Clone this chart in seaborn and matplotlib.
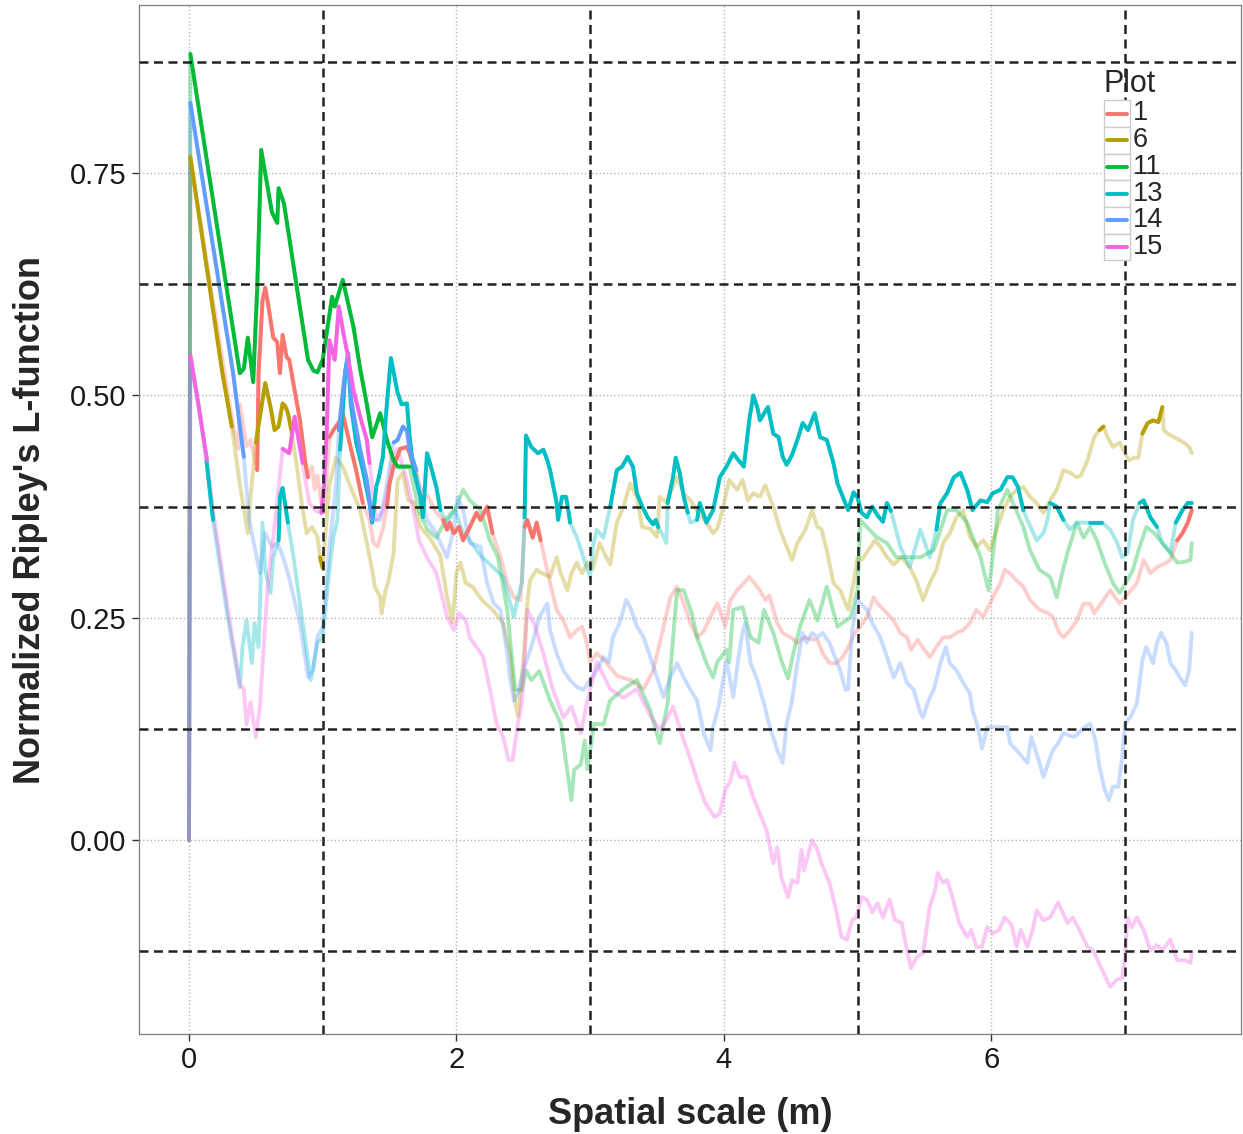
import pandas as pd
import seaborn as sns
import matplotlib.pyplot as plt
from matplotlib.lines import Line2D
from matplotlib.patches import Rectangle

# Plot ids and ggplot-style hue colours
plots = ['1', '6', '11', '13', '14', '15']
colors = ['#F8766D', '#B79F00', '#00BA38', '#00BFC4', '#619CFF', '#F564E3']

# (spatial scale, normalized L)
pts_1 = [(0, 0), (0.01, 0.765), (0.33, 0.465), (0.37, 0.44), (0.38, 0.49), (0.43, 0.443), (0.46, 0.45),
         (0.51, 0.416), (0.52, 0.525), (0.55, 0.607), (0.57, 0.621), (0.59, 0.604), (0.63, 0.565),
         (0.66, 0.56), (0.68, 0.525), (0.70, 0.568), (0.73, 0.543), (0.75, 0.54), (0.78, 0.514),
         (0.83, 0.472), (0.87, 0.424), (0.89, 0.408), (0.92, 0.42), (0.94, 0.394), (0.96, 0.41),
         (0.99, 0.379), (1.01, 0.368), (1.05, 0.453), (1.08, 0.461), (1.13, 0.472), (1.15, 0.48),
         (1.20, 0.447), (1.25, 0.416), (1.30, 0.379), (1.35, 0.36), (1.38, 0.334), (1.41, 0.33),
         (1.45, 0.35), (1.48, 0.375), (1.50, 0.401), (1.53, 0.42), (1.58, 0.44), (1.63, 0.442),
         (1.65, 0.435), (1.70, 0.408), (1.75, 0.39), (1.79, 0.386), (1.84, 0.37), (1.90, 0.36),
         (1.93, 0.349), (1.95, 0.357), (1.98, 0.345), (2.02, 0.352), (2.05, 0.337), (2.10, 0.352),
         (2.15, 0.368), (2.18, 0.36), (2.23, 0.375), (2.27, 0.345), (2.33, 0.318), (2.38, 0.289),
         (2.43, 0.273), (2.48, 0.27), (2.51, 0.352), (2.53, 0.36), (2.57, 0.34), (2.60, 0.357),
         (2.63, 0.337), (2.67, 0.31), (2.70, 0.289), (2.75, 0.259), (2.80, 0.247), (2.85, 0.228),
         (2.90, 0.236), (2.94, 0.24), (2.97, 0.225), (3.00, 0.20), (3.05, 0.21), (3.12, 0.20),
         (3.20, 0.185), (3.30, 0.18), (3.40, 0.17), (3.47, 0.19), (3.55, 0.24), (3.60, 0.273),
         (3.65, 0.285), (3.70, 0.266), (3.75, 0.244), (3.80, 0.228), (3.85, 0.235), (3.90, 0.251),
         (3.95, 0.266), (3.97, 0.259), (4.01, 0.24), (4.05, 0.27), (4.10, 0.281), (4.15, 0.289),
         (4.19, 0.296), (4.27, 0.281), (4.31, 0.27), (4.34, 0.275), (4.40, 0.244), (4.44, 0.233),
         (4.50, 0.228), (4.55, 0.222), (4.60, 0.228), (4.65, 0.226), (4.70, 0.225), (4.74, 0.21),
         (4.79, 0.199), (4.84, 0.199), (4.89, 0.206), (4.93, 0.217), (4.98, 0.233), (5.02, 0.24),
         (5.07, 0.251), (5.12, 0.273), (5.15, 0.266), (5.19, 0.26), (5.27, 0.247), (5.32, 0.233),
         (5.37, 0.228), (5.40, 0.214), (5.45, 0.225), (5.50, 0.214), (5.54, 0.206), (5.59, 0.217),
         (5.64, 0.228), (5.69, 0.228), (5.74, 0.233), (5.79, 0.236), (5.84, 0.244), (5.89, 0.259),
         (5.94, 0.251), (5.99, 0.266), (6.04, 0.281), (6.07, 0.289), (6.10, 0.304), (6.14, 0.30),
         (6.19, 0.292), (6.24, 0.285), (6.29, 0.27), (6.36, 0.259), (6.43, 0.255), (6.46, 0.251),
         (6.51, 0.233), (6.54, 0.228), (6.59, 0.236), (6.64, 0.247), (6.69, 0.266), (6.74, 0.266),
         (6.77, 0.255), (6.84, 0.27), (6.89, 0.281), (6.96, 0.266), (7.04, 0.28), (7.09, 0.289),
         (7.14, 0.315), (7.19, 0.30), (7.24, 0.307), (7.31, 0.312), (7.34, 0.315), (7.39, 0.337),
         (7.43, 0.345), (7.47, 0.357), (7.50, 0.371)]
sig_1 = [(0.01, 0.30), (0.50, 0.90), (1.02, 1.34), (1.48, 1.74), (1.90, 2.28), (2.50, 2.64), (7.37, 7.5)]

pts_6 = [(0, 0), (0.01, 0.768), (0.25, 0.525), (0.32, 0.465), (0.38, 0.40), (0.44, 0.345), (0.46, 0.386),
         (0.50, 0.447), (0.57, 0.514), (0.61, 0.487), (0.64, 0.461), (0.67, 0.465), (0.70, 0.491),
         (0.72, 0.488), (0.74, 0.48), (0.77, 0.457), (0.81, 0.416), (0.85, 0.371), (0.88, 0.345),
         (0.92, 0.352), (0.96, 0.341), (0.98, 0.318), (1.00, 0.306), (1.03, 0.36), (1.05, 0.40),
         (1.10, 0.43), (1.15, 0.42), (1.20, 0.40), (1.28, 0.371), (1.33, 0.334), (1.37, 0.304),
         (1.39, 0.285), (1.43, 0.273), (1.44, 0.255), (1.47, 0.281), (1.49, 0.29), (1.53, 0.323),
         (1.56, 0.405), (1.60, 0.413), (1.64, 0.382), (1.68, 0.38), (1.73, 0.352), (1.80, 0.34),
         (1.88, 0.32), (1.93, 0.273), (1.97, 0.245), (2.00, 0.30), (2.03, 0.312), (2.07, 0.289),
         (2.12, 0.285), (2.19, 0.27), (2.27, 0.259), (2.35, 0.244), (2.40, 0.21), (2.44, 0.154),
         (2.46, 0.14), (2.50, 0.20), (2.53, 0.266), (2.55, 0.292), (2.60, 0.304), (2.64, 0.30),
         (2.70, 0.296), (2.75, 0.318), (2.78, 0.30), (2.83, 0.281), (2.86, 0.30), (2.90, 0.312),
         (2.94, 0.30), (2.98, 0.312), (3.02, 0.305), (3.07, 0.334), (3.13, 0.315), (3.15, 0.31),
         (3.20, 0.357), (3.25, 0.375), (3.30, 0.401), (3.35, 0.385), (3.39, 0.352), (3.45, 0.35),
         (3.50, 0.341), (3.52, 0.386), (3.57, 0.38), (3.65, 0.408), (3.70, 0.39), (3.75, 0.382),
         (3.80, 0.37), (3.87, 0.357), (3.92, 0.345), (3.95, 0.35), (3.99, 0.371), (4.04, 0.405),
         (4.10, 0.394), (4.14, 0.405), (4.18, 0.382), (4.22, 0.39), (4.27, 0.386), (4.31, 0.399),
         (4.37, 0.375), (4.42, 0.349), (4.47, 0.33), (4.51, 0.315), (4.55, 0.334), (4.61, 0.349),
         (4.66, 0.371), (4.70, 0.352), (4.73, 0.35), (4.77, 0.326), (4.82, 0.289), (4.87, 0.281),
         (4.93, 0.259), (4.97, 0.289), (5.00, 0.318), (5.03, 0.315), (5.08, 0.326), (5.13, 0.337),
         (5.17, 0.33), (5.22, 0.318), (5.27, 0.31), (5.33, 0.318), (5.39, 0.307), (5.44, 0.292),
         (5.49, 0.27), (5.54, 0.289), (5.59, 0.304), (5.64, 0.334), (5.69, 0.345), (5.74, 0.363),
         (5.79, 0.371), (5.84, 0.341), (5.89, 0.33), (5.94, 0.337), (5.99, 0.326), (6.04, 0.349),
         (6.09, 0.371), (6.14, 0.386), (6.19, 0.394), (6.24, 0.397), (6.29, 0.386), (6.34, 0.379),
         (6.39, 0.368), (6.44, 0.382), (6.49, 0.394), (6.54, 0.416), (6.59, 0.413), (6.64, 0.408),
         (6.67, 0.41), (6.72, 0.427), (6.77, 0.453), (6.81, 0.461), (6.84, 0.465), (6.87, 0.453),
         (6.91, 0.442), (6.96, 0.447), (7.00, 0.435), (7.03, 0.427), (7.07, 0.43), (7.10, 0.43),
         (7.13, 0.457), (7.17, 0.469), (7.21, 0.472), (7.25, 0.47), (7.28, 0.487), (7.29, 0.461),
         (7.32, 0.457), (7.37, 0.453), (7.43, 0.448), (7.48, 0.442), (7.50, 0.435)]
sig_6 = [(0.01, 0.33), (0.50, 0.77), (0.98, 1.01), (6.80, 6.85), (7.12, 7.28)]

pts_11 = [(0, 0), (0.01, 0.884), (0.38, 0.525), (0.41, 0.53), (0.44, 0.565), (0.48, 0.515), (0.51, 0.62),
          (0.54, 0.776), (0.62, 0.706), (0.66, 0.694), (0.67, 0.733), (0.71, 0.716), (0.89, 0.54),
          (0.93, 0.528), (0.96, 0.526), (1.00, 0.54), (1.03, 0.57), (1.07, 0.611), (1.09, 0.60),
          (1.15, 0.63), (1.23, 0.577), (1.28, 0.53), (1.33, 0.49), (1.37, 0.453), (1.43, 0.48),
          (1.48, 0.45), (1.53, 0.427), (1.56, 0.42), (1.65, 0.42), (1.72, 0.37), (1.78, 0.35),
          (1.85, 0.34), (1.92, 0.36), (2.00, 0.375), (2.05, 0.394), (2.10, 0.382), (2.18, 0.371),
          (2.25, 0.337), (2.31, 0.318), (2.35, 0.285), (2.38, 0.259), (2.40, 0.228), (2.44, 0.169),
          (2.49, 0.169), (2.52, 0.191), (2.56, 0.18), (2.62, 0.19), (2.70, 0.157), (2.78, 0.131),
          (2.86, 0.045), (2.88, 0.079), (2.93, 0.085), (2.96, 0.112), (2.98, 0.08), (3.03, 0.131),
          (3.10, 0.13), (3.15, 0.157), (3.25, 0.17), (3.35, 0.18), (3.45, 0.146), (3.52, 0.109),
          (3.58, 0.154), (3.65, 0.281), (3.70, 0.281), (3.76, 0.255), (3.80, 0.228), (3.87, 0.199),
          (3.92, 0.183), (3.95, 0.20), (4.02, 0.214), (4.04, 0.20), (4.07, 0.259), (4.14, 0.262),
          (4.20, 0.228), (4.26, 0.222), (4.30, 0.259), (4.37, 0.233), (4.43, 0.202), (4.48, 0.182),
          (4.52, 0.21), (4.57, 0.24), (4.64, 0.27), (4.70, 0.247), (4.77, 0.285), (4.85, 0.24),
          (4.95, 0.251), (5.00, 0.281), (5.02, 0.36), (5.07, 0.352), (5.14, 0.341), (5.22, 0.334),
          (5.29, 0.318), (5.47, 0.318), (5.57, 0.326), (5.67, 0.371), (5.74, 0.371), (5.82, 0.357),
          (5.92, 0.318), (5.98, 0.281), (6.00, 0.304), (6.05, 0.371), (6.12, 0.394), (6.24, 0.352),
          (6.29, 0.326), (6.36, 0.304), (6.44, 0.296), (6.49, 0.273), (6.53, 0.30), (6.57, 0.323),
          (6.64, 0.357), (6.69, 0.34), (6.74, 0.352), (6.79, 0.337), (6.84, 0.315), (6.91, 0.289),
          (6.96, 0.278), (7.01, 0.29), (7.06, 0.304), (7.11, 0.33), (7.16, 0.352), (7.22, 0.345),
          (7.28, 0.334), (7.34, 0.323), (7.39, 0.312), (7.45, 0.313), (7.49, 0.315), (7.50, 0.334)]
sig_11 = [(0.01, 1.65)]

pts_13 = [(0, 0), (0.01, 0.545), (0.07, 0.49), (0.13, 0.427), (0.18, 0.36), (0.28, 0.26), (0.38, 0.172),
          (0.40, 0.217), (0.43, 0.247), (0.47, 0.199), (0.49, 0.244), (0.52, 0.217), (0.55, 0.357),
          (0.57, 0.304), (0.61, 0.278), (0.63, 0.318), (0.67, 0.337), (0.68, 0.386), (0.70, 0.396),
          (0.74, 0.357), (0.78, 0.32), (0.91, 0.18), (0.96, 0.222), (1.00, 0.228), (1.05, 0.304),
          (1.08, 0.341), (1.11, 0.36), (1.13, 0.439), (1.17, 0.528), (1.19, 0.545), (1.21, 0.491),
          (1.25, 0.447), (1.30, 0.416), (1.35, 0.379), (1.37, 0.357), (1.40, 0.397), (1.42, 0.408),
          (1.45, 0.431), (1.48, 0.491), (1.51, 0.542), (1.56, 0.503), (1.59, 0.49), (1.63, 0.491),
          (1.65, 0.453), (1.68, 0.416), (1.73, 0.386), (1.75, 0.363), (1.78, 0.435), (1.80, 0.425),
          (1.85, 0.397), (1.88, 0.371), (1.93, 0.357), (1.99, 0.371), (2.04, 0.349), (2.10, 0.337),
          (2.18, 0.32), (2.35, 0.296), (2.43, 0.251), (2.46, 0.273), (2.49, 0.289), (2.51, 0.363),
          (2.52, 0.455), (2.56, 0.442), (2.61, 0.435), (2.65, 0.439), (2.68, 0.427), (2.70, 0.416),
          (2.73, 0.394), (2.75, 0.379), (2.76, 0.36), (2.79, 0.386), (2.82, 0.386), (2.84, 0.368),
          (2.85, 0.357), (2.90, 0.341), (2.95, 0.318), (3.00, 0.296), (3.02, 0.33), (3.05, 0.349),
          (3.10, 0.34), (3.15, 0.375), (3.20, 0.416), (3.24, 0.42), (3.28, 0.431), (3.32, 0.42),
          (3.35, 0.39), (3.39, 0.375), (3.43, 0.363), (3.47, 0.355), (3.49, 0.36), (3.51, 0.352),
          (3.55, 0.341), (3.57, 0.334), (3.58, 0.379), (3.62, 0.408), (3.64, 0.43), (3.67, 0.413),
          (3.70, 0.386), (3.73, 0.368), (3.75, 0.357), (3.80, 0.36), (3.82, 0.379), (3.87, 0.357),
          (3.92, 0.371), (3.97, 0.408), (4.02, 0.42), (4.07, 0.435), (4.11, 0.427), (4.15, 0.42),
          (4.19, 0.472), (4.22, 0.50), (4.25, 0.487), (4.27, 0.472), (4.33, 0.487), (4.37, 0.457),
          (4.41, 0.453), (4.44, 0.431), (4.47, 0.422), (4.51, 0.433), (4.55, 0.45), (4.59, 0.469),
          (4.63, 0.461), (4.68, 0.48), (4.72, 0.453), (4.77, 0.45), (4.82, 0.424), (4.85, 0.401),
          (4.89, 0.386), (4.93, 0.371), (4.97, 0.391), (5.00, 0.385), (5.03, 0.368), (5.07, 0.363),
          (5.11, 0.375), (5.15, 0.365), (5.19, 0.358), (5.22, 0.379), (5.25, 0.37), (5.32, 0.33),
          (5.39, 0.307), (5.47, 0.349), (5.54, 0.318), (5.59, 0.349), (5.62, 0.379), (5.67, 0.39),
          (5.72, 0.408), (5.77, 0.413), (5.82, 0.394), (5.86, 0.371), (5.92, 0.382), (5.97, 0.38),
          (6.01, 0.39), (6.07, 0.394), (6.12, 0.408), (6.16, 0.408), (6.20, 0.397), (6.24, 0.371),
          (6.27, 0.36), (6.34, 0.337), (6.39, 0.345), (6.42, 0.36), (6.44, 0.379), (6.49, 0.375),
          (6.54, 0.36), (6.59, 0.349), (6.64, 0.357), (6.74, 0.357), (6.83, 0.357), (6.89, 0.349),
          (6.94, 0.335), (6.98, 0.318), (7.02, 0.323), (7.06, 0.36), (7.11, 0.379), (7.14, 0.382),
          (7.19, 0.363), (7.24, 0.352), (7.28, 0.334), (7.34, 0.323), (7.38, 0.357), (7.43, 0.371),
          (7.47, 0.379), (7.50, 0.379)]
sig_13 = [(0.12, 0.18), (0.67, 0.74), (1.12, 1.92), (2.50, 2.85), (3.15, 3.51), (3.58, 3.73),
          (3.80, 5.27), (5.59, 6.25), (6.43, 6.54), (6.73, 6.84), (7.11, 7.24), (7.37, 7.5)]

pts_14 = [(0, 0), (0.01, 0.829), (0.33, 0.525), (0.41, 0.431), (0.45, 0.36), (0.53, 0.30), (0.57, 0.345),
          (0.62, 0.33), (0.66, 0.334), (0.70, 0.32), (0.74, 0.30), (0.83, 0.244), (0.89, 0.183),
          (0.93, 0.191), (0.96, 0.228), (1.00, 0.24), (1.05, 0.33), (1.10, 0.40), (1.12, 0.461),
          (1.16, 0.517), (1.19, 0.548), (1.21, 0.498), (1.23, 0.48), (1.28, 0.439), (1.33, 0.405),
          (1.37, 0.36), (1.43, 0.36), (1.48, 0.40), (1.53, 0.447), (1.56, 0.45), (1.60, 0.465),
          (1.63, 0.46), (1.65, 0.439), (1.70, 0.416), (1.73, 0.39), (1.78, 0.36), (1.85, 0.345),
          (1.88, 0.334), (1.93, 0.318), (1.98, 0.35), (2.01, 0.386), (2.05, 0.371), (2.10, 0.334),
          (2.18, 0.33), (2.20, 0.312), (2.23, 0.289), (2.28, 0.266), (2.33, 0.259), (2.38, 0.21),
          (2.40, 0.183), (2.43, 0.157), (2.46, 0.165), (2.50, 0.191), (2.57, 0.222), (2.62, 0.251),
          (2.68, 0.266), (2.70, 0.236), (2.75, 0.21), (2.80, 0.191), (2.85, 0.18), (2.90, 0.172),
          (2.95, 0.169), (3.00, 0.18), (3.05, 0.191), (3.10, 0.206), (3.14, 0.20), (3.17, 0.228),
          (3.22, 0.244), (3.27, 0.27), (3.30, 0.262), (3.35, 0.24), (3.40, 0.228), (3.45, 0.206),
          (3.50, 0.183), (3.55, 0.161), (3.60, 0.183), (3.65, 0.199), (3.70, 0.183), (3.75, 0.169),
          (3.80, 0.157), (3.85, 0.12), (3.90, 0.101), (3.92, 0.127), (3.96, 0.15), (4.02, 0.202),
          (4.07, 0.161), (4.11, 0.206), (4.14, 0.233), (4.16, 0.244), (4.20, 0.199), (4.25, 0.18),
          (4.30, 0.154), (4.33, 0.135), (4.40, 0.101), (4.44, 0.087), (4.47, 0.131), (4.51, 0.157),
          (4.55, 0.199), (4.59, 0.233), (4.62, 0.222), (4.66, 0.233), (4.70, 0.228), (4.74, 0.233),
          (4.79, 0.222), (4.83, 0.206), (4.87, 0.191), (4.91, 0.169), (4.93, 0.17), (4.96, 0.236),
          (5.00, 0.27), (5.07, 0.259), (5.11, 0.244), (5.17, 0.228), (5.22, 0.206), (5.27, 0.183),
          (5.32, 0.199), (5.37, 0.177), (5.42, 0.169), (5.47, 0.143), (5.49, 0.138), (5.53, 0.157),
          (5.57, 0.169), (5.62, 0.199), (5.66, 0.217), (5.69, 0.199), (5.74, 0.191), (5.79, 0.177),
          (5.84, 0.165), (5.86, 0.146), (5.90, 0.127), (5.93, 0.103), (5.97, 0.127), (6.02, 0.127),
          (6.07, 0.127), (6.12, 0.127), (6.14, 0.109), (6.19, 0.101), (6.27, 0.087), (6.30, 0.116),
          (6.36, 0.087), (6.39, 0.071), (6.46, 0.101), (6.50, 0.109), (6.54, 0.12), (6.62, 0.116),
          (6.70, 0.127), (6.74, 0.131), (6.78, 0.112), (6.81, 0.082), (6.85, 0.056), (6.88, 0.045),
          (6.91, 0.06), (6.95, 0.06), (6.98, 0.093), (7.00, 0.131), (7.04, 0.138), (7.09, 0.154),
          (7.13, 0.202), (7.16, 0.217), (7.18, 0.21), (7.21, 0.199), (7.24, 0.222), (7.27, 0.233),
          (7.31, 0.222), (7.34, 0.199), (7.38, 0.191), (7.41, 0.183), (7.45, 0.174), (7.48, 0.191),
          (7.50, 0.233)]
sig_14 = [(0.01, 0.41), (1.12, 1.37), (1.52, 1.72)]

pts_15 = [(0, 0), (0.01, 0.545), (0.07, 0.49), (0.135, 0.427), (0.18, 0.37), (0.30, 0.25), (0.38, 0.175),
          (0.41, 0.17), (0.43, 0.13), (0.46, 0.155), (0.50, 0.116), (0.53, 0.15), (0.56, 0.22),
          (0.59, 0.29), (0.63, 0.34), (0.66, 0.38), (0.70, 0.44), (0.75, 0.435), (0.79, 0.476),
          (0.82, 0.45), (0.85, 0.424), (0.90, 0.379), (0.95, 0.37), (0.99, 0.368), (1.01, 0.40),
          (1.03, 0.46), (1.05, 0.562), (1.09, 0.54), (1.12, 0.60), (1.15, 0.574), (1.19, 0.543),
          (1.23, 0.506), (1.28, 0.476), (1.33, 0.45), (1.35, 0.424), (1.40, 0.36), (1.45, 0.37),
          (1.50, 0.405), (1.52, 0.43), (1.56, 0.44), (1.62, 0.41), (1.68, 0.37), (1.72, 0.337),
          (1.78, 0.318), (1.85, 0.30), (1.93, 0.251), (1.98, 0.236), (2.02, 0.255), (2.07, 0.247),
          (2.10, 0.228), (2.15, 0.217), (2.20, 0.206), (2.25, 0.17), (2.30, 0.131), (2.35, 0.116),
          (2.39, 0.09), (2.42, 0.09), (2.46, 0.131), (2.49, 0.154), (2.53, 0.259), (2.58, 0.244),
          (2.65, 0.21), (2.72, 0.17), (2.80, 0.138), (2.86, 0.15), (2.93, 0.12), (2.97, 0.15),
          (3.05, 0.20), (3.15, 0.17), (3.25, 0.16), (3.35, 0.17), (3.45, 0.14), (3.52, 0.124),
          (3.57, 0.135), (3.62, 0.15), (3.70, 0.112), (3.76, 0.087), (3.80, 0.067), (3.86, 0.042),
          (3.93, 0.026), (3.97, 0.03), (4.01, 0.056), (4.05, 0.067), (4.08, 0.087), (4.12, 0.071),
          (4.17, 0.071), (4.22, 0.048), (4.32, 0.011), (4.37, -0.026), (4.40, -0.008), (4.43, -0.042),
          (4.48, -0.064), (4.51, -0.045), (4.55, -0.048), (4.58, -0.011), (4.60, -0.034), (4.66, 0.0),
          (4.70, -0.011), (4.73, -0.026), (4.79, -0.048), (4.84, -0.079), (4.88, -0.109),
          (4.92, -0.112), (4.96, -0.09), (4.99, -0.087), (5.03, -0.064), (5.07, -0.067),
          (5.11, -0.081), (5.15, -0.071), (5.19, -0.087), (5.24, -0.067), (5.28, -0.09),
          (5.33, -0.093), (5.37, -0.124), (5.40, -0.144), (5.44, -0.132), (5.49, -0.127),
          (5.54, -0.075), (5.58, -0.056), (5.60, -0.037), (5.64, -0.048), (5.67, -0.045),
          (5.71, -0.064), (5.76, -0.093), (5.82, -0.109), (5.85, -0.101), (5.89, -0.12),
          (5.93, -0.12), (5.97, -0.098), (6.01, -0.105), (6.06, -0.101), (6.10, -0.087),
          (6.15, -0.095), (6.19, -0.12), (6.22, -0.101), (6.27, -0.12), (6.31, -0.101),
          (6.34, -0.079), (6.39, -0.09), (6.44, -0.087), (6.50, -0.07), (6.57, -0.093),
          (6.61, -0.087), (6.66, -0.101), (6.72, -0.12), (6.76, -0.124), (6.83, -0.146),
          (6.89, -0.165), (6.94, -0.157), (6.98, -0.155), (7.00, -0.132), (7.02, -0.087),
          (7.05, -0.098), (7.09, -0.087), (7.14, -0.101), (7.19, -0.124), (7.24, -0.118),
          (7.28, -0.124), (7.34, -0.112), (7.39, -0.135), (7.45, -0.135), (7.49, -0.138),
          (7.50, -0.126)]
sig_15 = [(0.01, 0.135), (0.70, 0.85), (0.99, 1.35), (1.51, 1.53)]

series = {'1': (pts_1, sig_1), '6': (pts_6, sig_6), '11': (pts_11, sig_11),
          '13': (pts_13, sig_13), '14': (pts_14, sig_14), '15': (pts_15, sig_15)}

# long table; significant stretches get their own unit id
rows = []
for p, (pts, sig) in series.items():
    seg, prev = 0, False
    for x, y in pts:
        s = any(lo <= x <= hi for lo, hi in sig)
        if s and not prev:
            seg += 1
        rows.append({'Plot': p, 'x': x, 'y': y, 'sig': s, 'seg': f'{p}-{seg}'})
        prev = s
df = pd.DataFrame(rows)
pal = dict(zip(plots, colors))

sns.set_style('white')
plt.rcParams['font.family'] = ['Liberation Sans', 'DejaVu Sans']

W, H = 1243, 1134
fig = plt.figure(figsize=(W / 100, H / 100), dpi=100)
ax = fig.add_axes([139 / W, 1 - 1034 / H, (1241 - 139) / W, (1034 - 5) / H])

lw = 2.8
sns.lineplot(data=df, x='x', y='y', hue='Plot', hue_order=plots, units='Plot', estimator=None,
             sort=False, palette=pal, alpha=0.35, lw=lw, legend=False, ax=ax)
sns.lineplot(data=df[df['sig']], x='x', y='y', hue='Plot', hue_order=plots, units='seg',
             estimator=None, sort=False, palette=pal, lw=lw, legend=False, ax=ax)

for v in [1, 3, 5, 7]:
    ax.axvline(v, color='#222222', ls=(0, (3.6, 2.2)), lw=1.8, zorder=3)
for h in [-0.125, 0.125, 0.375, 0.625, 0.875]:
    ax.axhline(h, color='#222222', ls=(0, (3.6, 2.2)), lw=1.8, zorder=3)

ax.set_xlim(-0.374, 7.868)
ax.set_ylim(-0.218, 0.939)
ax.set_xticks([0, 2, 4, 6])
ax.set_yticks([0, 0.25, 0.5, 0.75])
ax.set_yticklabels(['0.00', '0.25', '0.50', '0.75'])
ax.grid(True, ls=':', color='#b5b5b5', lw=1.0)
ax.set_axisbelow(True)
for s in ax.spines.values():
    s.set_color('#7f7f7f')
    s.set_linewidth(0.9)
ax.tick_params(axis='both', length=5, width=1, color='#333333', labelsize=21,
               labelcolor='#1a1a1a', pad=4, bottom=True, left=True)
ax.set_xlabel('Spatial scale (m)', fontsize=26, fontweight='bold', labelpad=16)
ax.set_ylabel("Normalized Ripley's L-function", fontsize=26, fontweight='bold', labelpad=16)

# legend drawn in figure pixels to match the ggplot key boxes
def fx(px):
    return px / W

def fy(py):
    return 1 - py / H

fig.text(fx(1104), fy(84), 'Plot', fontsize=22, va='center', ha='left')
for i, (p, c) in enumerate(zip(plots, colors)):
    cy = 113.5 + 26.7 * i
    fig.add_artist(Rectangle((fx(1104), fy(cy + 13.3)), fx(26), 26.7 / H, transform=fig.transFigure,
                             facecolor='white', edgecolor='#cccccc', lw=1.0))
    fig.add_artist(Line2D([fx(1107), fx(1127)], [fy(cy), fy(cy)], color=c, lw=lw,
                          transform=fig.transFigure))
    fig.text(fx(1133), fy(cy), p, fontsize=19.5, va='center', ha='left')

fig.savefig('out.png', dpi=100)
